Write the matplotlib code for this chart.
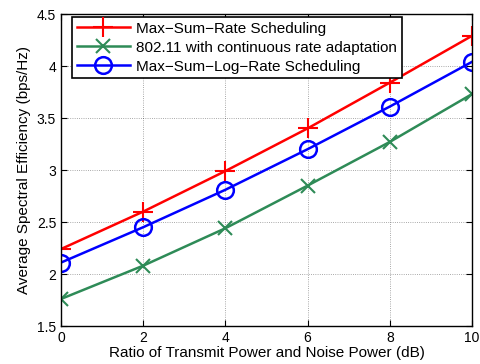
import matplotlib
matplotlib.use("Agg")
import matplotlib.pyplot as plt

x = [0, 2, 4, 6, 8, 10]
max_sum_rate = [2.24, 2.60, 2.99, 3.40, 3.84, 4.29]
wifi = [1.76, 2.08, 2.44, 2.85, 3.27, 3.73]
max_sum_log = [2.11, 2.45, 2.81, 3.20, 3.61, 4.04]

plt.rcParams['font.family'] = ['Liberation Sans', 'DejaVu Sans']
fig = plt.figure(figsize=(4.8, 3.64), dpi=100)
ax = fig.add_axes([61/480, 1-326/364, 411/480, 312/364])

ax.plot(x, max_sum_rate, color='red', marker='+', markersize=14, mew=1.5, lw=1.8,
        label='Max\u2212Sum\u2212Rate Scheduling')
ax.plot(x, wifi, color='#2e8b57', marker='x', markersize=10, mew=1.5, lw=1.8,
        label='802.11 with continuous rate adaptation')
ax.plot(x, max_sum_log, color='blue', marker='o', markersize=12, mfc='none', mew=1.8, lw=1.8,
        label='Max\u2212Sum\u2212Log\u2212Rate Scheduling')

ax.set_xlim(0, 10)
ax.set_ylim(1.5, 4.5)
ax.set_xticks([0, 2, 4, 6, 8, 10])
ax.set_yticks([1.5, 2, 2.5, 3, 3.5, 4, 4.5])
ax.set_yticklabels(['1.5', '2', '2.5', '3', '3.5', '4', '4.5'])
ax.grid(True, linestyle=':', color='black', lw=0.6, alpha=0.45)
ax.tick_params(direction='in', top=True, right=True, labelsize=10, length=4)
for s in ax.spines.values():
    s.set_linewidth(1.0)
ax.set_xlabel('Ratio of Transmit Power and Noise Power (dB)', fontsize=11, labelpad=1)
ax.set_ylabel('Average Spectral Efficiency (bps/Hz)', fontsize=11, labelpad=4)

leg = ax.legend(loc='upper left', bbox_to_anchor=(0.027, 0.99), fontsize=11,
                fancybox=False, framealpha=1, edgecolor='black', borderpad=0.3,
                labelspacing=0.33, handlelength=3.5, borderaxespad=0.0, handletextpad=0.4)
leg.get_frame().set_linewidth(1.2)

fig.savefig('out.png', dpi=100)
